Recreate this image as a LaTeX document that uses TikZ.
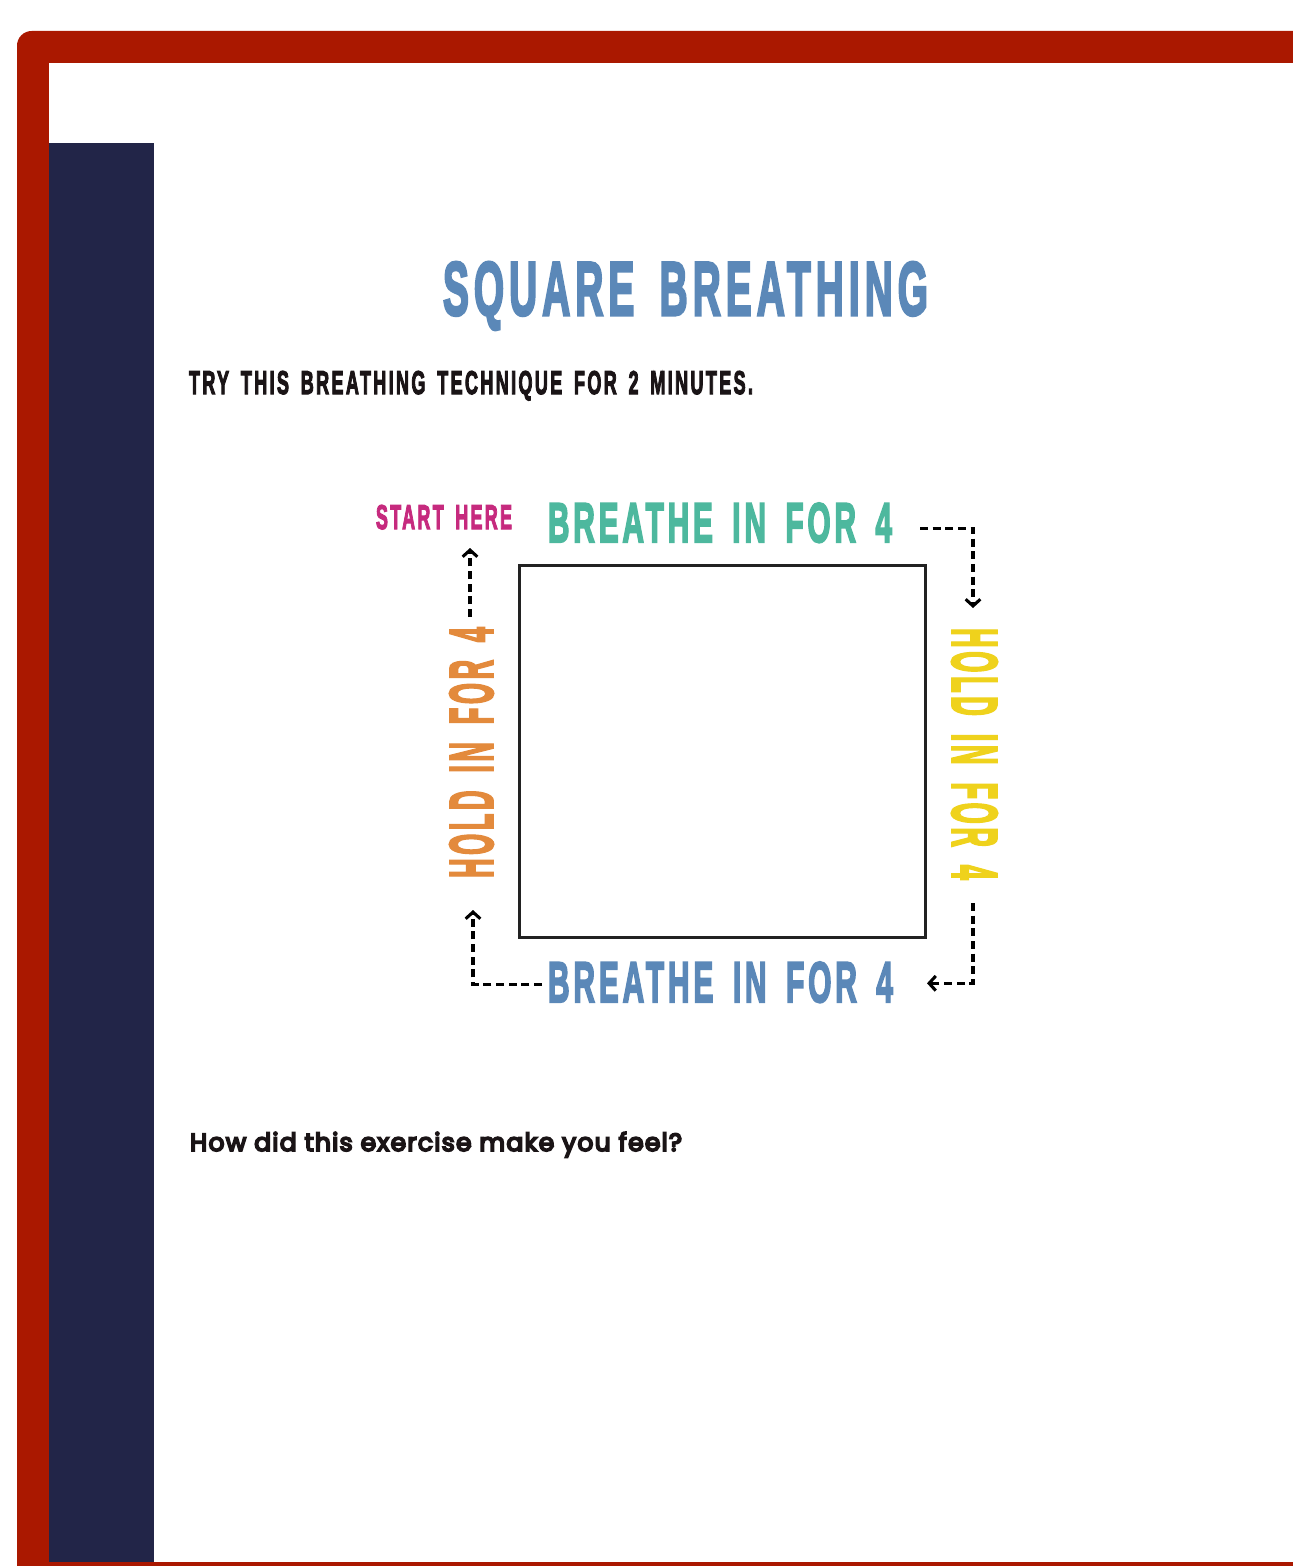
\documentclass[tikz,border=0pt]{standalone}
\usepackage{fontspec}
\usetikzlibrary{calc,arrows.meta}
\newfontfamily\disp[LetterSpace=13,WordSpace=1.6,FakeBold=4]{Liberation Sans}
\newfontfamily\qfont[LetterSpace=5,FakeBold=7]{Poppins}
\definecolor{framered}{HTML}{AA1800}
\definecolor{navy}{HTML}{222548}
\definecolor{titleblue}{HTML}{5B88B8}
\definecolor{teal}{HTML}{4DB89E}
\definecolor{magenta}{HTML}{C62A7E}
\definecolor{orangec}{HTML}{E38A3C}
\definecolor{yellowc}{HTML}{EFD21C}
\definecolor{inkc}{HTML}{1A1416}
\definecolor{boxc}{HTML}{222222}
\begin{document}
\begin{tikzpicture}[x=0.75pt,y=-0.75pt,
  lbl/.style={inner sep=0pt,outer sep=0pt},
  arr/.style={draw=black,line width=2.6pt,dash pattern=on 6pt off 3.5pt,
    -{Straight Barb[length=5pt,width=11pt,line width=2.3pt]}}]
\useasboundingbox (0,0) rectangle (1292,1566);
% frame
\fill[framered] (17,1580) [rounded corners=11pt] -- (17,31) [sharp corners] -- (1310,31) -- (1310,1580) -- cycle;
\fill[white] (49,63) rectangle (1310,1562);
\fill[navy] (49,143) rectangle (154,1562);
% texts
\node[lbl,anchor=base west,text=titleblue] (title) at (443,315)
  {\resizebox{363.75pt}{39.75pt}{\disp\bfseries SQUARE BREATHING}};
\node[lbl,anchor=base west,text=inkc] (sub) at (189,394)
  {\resizebox{423pt}{17.25pt}{\disp\bfseries TRY THIS BREATHING TECHNIQUE FOR 2 MINUTES.}};
\node[lbl,anchor=base west,text=magenta] (start) at (376,529)
  {\resizebox{102pt}{18pt}{\disp\bfseries START HERE}};
\node[lbl,anchor=base west,text=teal] (tb) at (548,542)
  {\resizebox{258pt}{29.25pt}{\disp\bfseries BREATHE IN FOR 4}};
\node[lbl,anchor=base west,text=titleblue] (bb) at (548,1002)
  {\resizebox{258.75pt}{30pt}{\disp\bfseries BREATHE IN FOR 4}};
\node[lbl,rotate=90,text=orangec] (lh) at (471.5,752.5)
  {\resizebox{188.25pt}{32.25pt}{\disp\bfseries HOLD IN FOR 4}};
\node[lbl,rotate=-90,text=yellowc] (rh) at (974.5,754)
  {\resizebox{189pt}{33.75pt}{\disp\bfseries HOLD IN FOR 4}};
\node[lbl,anchor=base west,text=inkc] (q) at (190,1151)
  {\resizebox{369pt}{14.25pt}{\qfont How did this exercise make you feel?}};
% square
\node[draw=boxc,line width=2.25pt,minimum width=304.5pt,minimum height=279pt,inner sep=0pt] (sq) at (722,751) {};
% arrows
\draw[arr] ($(tb.east)+(28,5.5)$) -| ($(rh.west)+(-1.5,-20)$);
\draw[arr] ($(rh.east)+(-1.5,23)$) |- ($(bb.east)+(34,1)$);
\draw[arr] ($(bb.west)+(-6,2)$) -| ($(lh.west)+(1.5,32)$);
\draw[arr] ($(lh.east)+(-1.5,-10)$) -- ($(lh.east)+(-1.5,-79)$);
\end{tikzpicture}
\end{document}
